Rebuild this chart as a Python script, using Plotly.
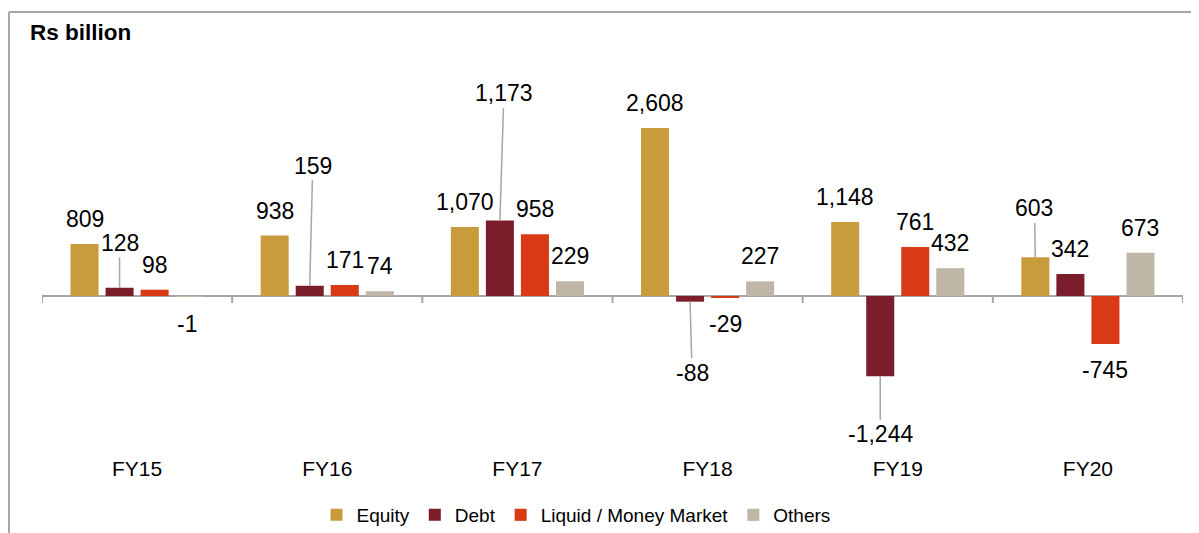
import plotly.graph_objects as go

# ---- data ----
categories = ["FY15", "FY16", "FY17", "FY18", "FY19", "FY20"]
series_names = ["Equity", "Debt", "Liquid / Money Market", "Others"]
equity = [809, 938, 1070, 2608, 1148, 603]
debt = [128, 159, 1173, -88, -1244, 342]
liquid = [98, 171, 958, -29, 761, -745]
others = [-1, 74, 229, 227, 432, 673]
unit_label = "Rs billion"

# ---- style ----
colors = ["#C89B3C", "#7B1D2B", "#D83A16", "#BFB6A8"]
FONT = "Arial, Liberation Sans, sans-serif"
TEXT_COLOR = "#000000"
GRID_GRAY = "#A6A6A6"
BARGAP = 0.263
GROUPGAP = 0.2
# page has an 8px body margin, so the figure is drawn at (8, 8)
W, H = 1191, 525
M = dict(l=34, r=16, t=32, b=83, autoexpand=False)

all_series = [equity, debt, liquid, others]

fig = go.Figure()
for name, vals, col in zip(series_names, all_series, colors):
    fig.add_trace(go.Bar(
        x=categories, y=vals, name=name,
        marker=dict(color=col, line=dict(width=0)),
        hoverinfo="x+y+name",
    ))

# label placement tweaks (pixel offsets): (series index, category index) -> (ax, ay) with leader line
leaders = {
    (0, 5): (-1, -49),
    (1, 0): (0, -45),
    (1, 1): (3, -120),
    (1, 2): (4, -127),
    (1, 3): (2, 71),
    (1, 4): (0, 58),
}
special_shift = {(3, 0): (-3, -28)}

slot = (1 - BARGAP) / 4
annotations = []
for si, vals in enumerate(all_series):
    off = (si - 1.5) * slot
    for ci, v in enumerate(vals):
        xpos = ci + off
        txt = f"{v:,}"
        if (si, ci) in leaders:
            ax, ay = leaders[(si, ci)]
            annotations.append(dict(
                x=xpos, y=v, xref="x", yref="y", text=txt,
                showarrow=True, arrowhead=0, arrowwidth=1.5, arrowcolor=GRID_GRAY,
                ax=ax, ay=ay, standoff=0, startstandoff=0,
                font=dict(family=FONT, size=23, color=TEXT_COLOR),
            ))
        else:
            if (si, ci) in special_shift:
                xs, ys = special_shift[(si, ci)]
            else:
                xs, ys = 0, (25 if v >= 0 else -26)
            annotations.append(dict(
                x=xpos, y=v, xref="x", yref="y", text=txt,
                showarrow=False, xshift=xs, yshift=ys,
                xanchor="center", yanchor="middle",
                font=dict(family=FONT, size=23, color=TEXT_COLOR),
            ))

plot_w = W - M["l"] - M["r"]
plot_h = H - M["t"] - M["b"]
annotations.append(dict(
    x=(20 - M["l"]) / plot_w, y=1 + (M["t"] - 25) / plot_h, xref="paper", yref="paper",
    text="<b>" + unit_label + "</b>", showarrow=False, xanchor="left", yanchor="middle",
    font=dict(family=FONT, size=22.5, color=TEXT_COLOR),
))

shapes = []
# tick marks at category boundaries below zero line
for k in range(len(categories) + 1):
    b = k - 0.5
    shapes.append(dict(
        type="line", xref="x", yref="y", x0=b, x1=b,
        ysizemode="pixel", yanchor=0, y0=0, y1=-7,
        line=dict(color=GRID_GRAY, width=2),
    ))
# outer frame (top and left edges visible)
fx = (1 - M["l"]) / plot_w
fy = 1 + (M["t"] - 4) / plot_h
shapes.append(dict(type="line", xref="paper", yref="paper", x0=fx, x1=1.2, y0=fy, y1=fy,
                   line=dict(color=GRID_GRAY, width=2)))
shapes.append(dict(type="line", xref="paper", yref="paper", x0=fx, x1=fx, y0=fy, y1=-0.3,
                   line=dict(color=GRID_GRAY, width=2)))

fig.update_layout(
    width=W, height=H, margin=M,
    paper_bgcolor="white", plot_bgcolor="white",
    barmode="group", bargap=BARGAP, bargroupgap=GROUPGAP,
    font=dict(family=FONT, color=TEXT_COLOR),
    xaxis=dict(type="category", range=[-0.5, len(categories) - 0.5], showgrid=False,
               showline=False, ticks="", zeroline=False, automargin=False,
               ticklabelstandoff=4,
               tickfont=dict(family=FONT, size=21, color=TEXT_COLOR)),
    yaxis=dict(range=[-2391, 3975], showgrid=False, showticklabels=False, ticks="",
               zeroline=True, zerolinecolor=GRID_GRAY, zerolinewidth=2, showline=False,
               automargin=False),
    legend=dict(orientation="h", x=(568 - M["l"]) / plot_w, xanchor="center",
                y=(M["t"] + plot_h - 507) / plot_h, yanchor="middle",
                font=dict(family=FONT, size=19, color=TEXT_COLOR),
                itemwidth=30, traceorder="normal", bgcolor="rgba(0,0,0,0)"),
    annotations=annotations, shapes=shapes,
    showlegend=True,
)

fig.write_html("out.html")
